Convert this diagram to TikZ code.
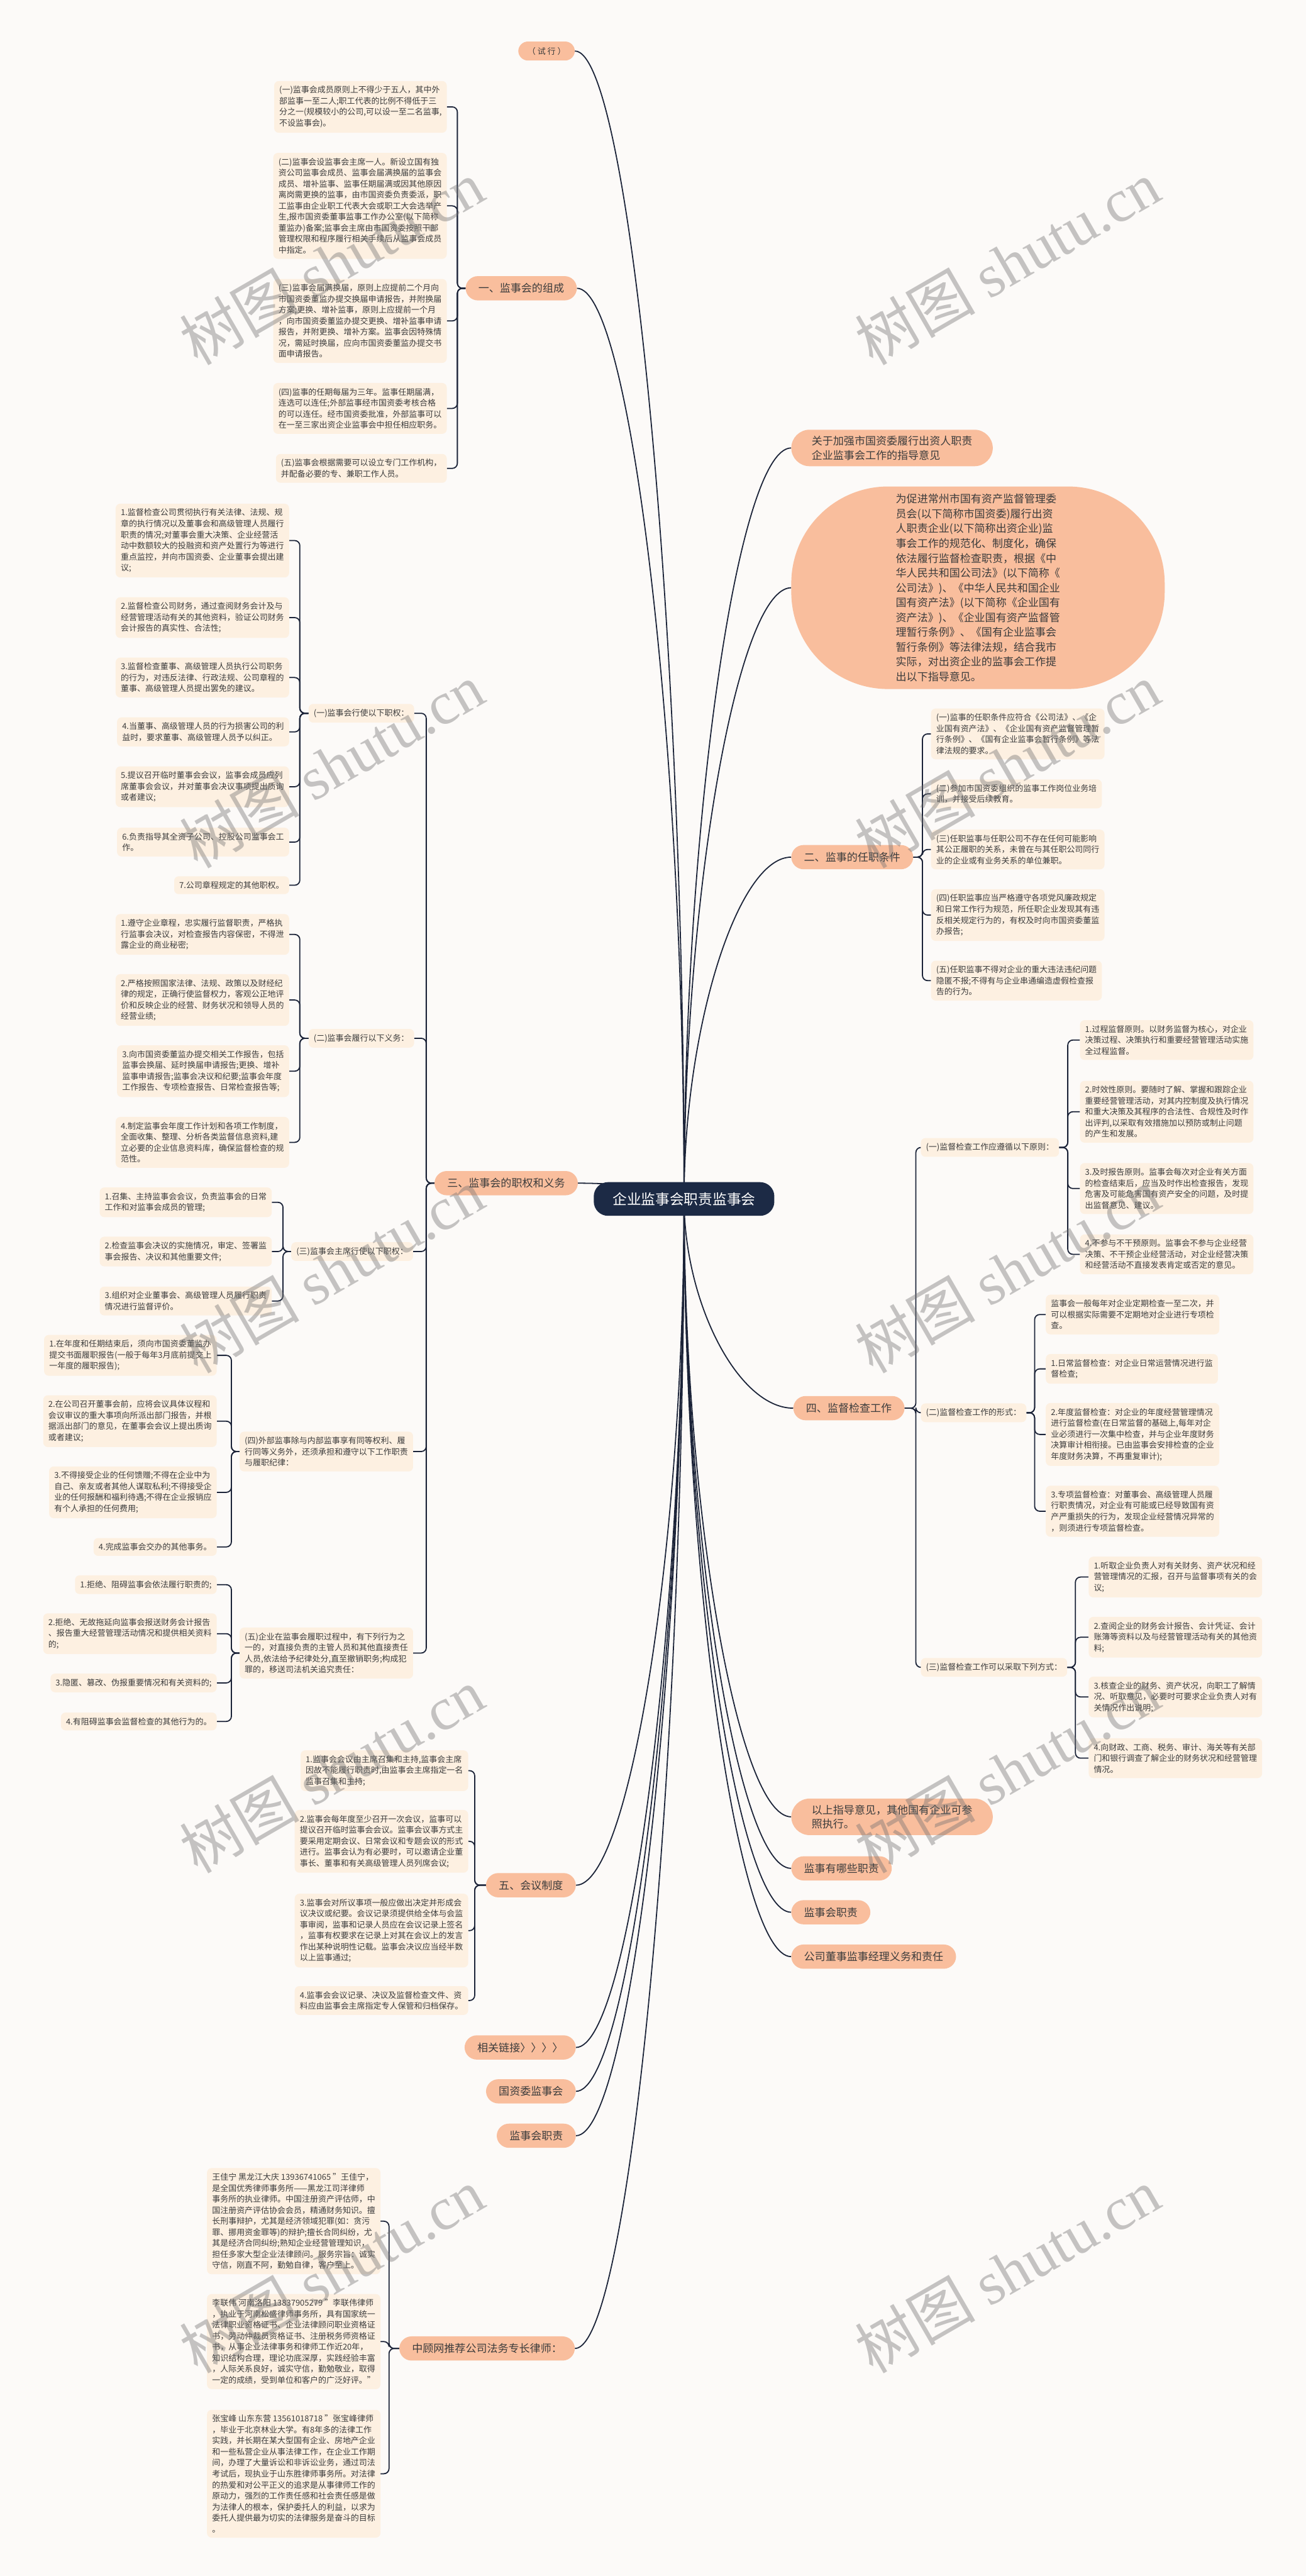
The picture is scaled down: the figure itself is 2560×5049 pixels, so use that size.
\documentclass[tikz,border=0pt]{standalone}
\usepackage{fontspec}
\setmainfont{Noto Sans CJK SC}
\newfontfamily\wmserif{Liberation Serif}
\usetikzlibrary{calc}
\definecolor{bgc}{HTML}{FCFAF8}
\definecolor{leaffill}{HTML}{FDF0E1}
\definecolor{brfill}{HTML}{F9BE9D}
\definecolor{rootfill}{HTML}{1C2A45}
\definecolor{linec}{HTML}{1B2338}
\definecolor{txt}{HTML}{3C3C3C}
\definecolor{wmc}{HTML}{707070}
\pgfdeclarelayer{back}\pgfdeclarelayer{bg}\pgfdeclarelayer{front}
\pgfsetlayers{back,bg,main,front}
\newcommand\lf{\fontsize{16}{21.6}\selectfont}
\newcommand\brf{\fontsize{21}{28}\selectfont}
\newcommand\bigf{\fontsize{21}{29}\selectfont}
\newcommand\rootf{\fontsize{28}{32}\selectfont}
\newcommand\wmf{\fontsize{118}{130}\selectfont}
\tikzset{
 leaf/.style={fill=leaffill, rounded corners=9pt, inner xsep=10pt, inner ysep=10pt, align=left, font=\lf, text=txt},
 br/.style={fill=brfill, inner xsep=25pt, inner ysep=14pt, align=left, font=\brf, text=txt, rounded corners=24pt},
 conn/.style={draw=linec, line width=2.2pt},
 elbow/.style={conn, rounded corners=10pt},
 mm/.style={to path={let \p1=(\tikztostart), \p2=(\tikztotarget), \p3=($(\p1)!0.5!(\p2)$) in .. controls (\x1,\y3) and (\x3,\y2) .. (\p2)}},
 wm/.style={text=wmc, opacity=0.4, rotate=30, font=\wmf}
}
\begin{document}
\begin{tikzpicture}[x=1pt,y=-1pt]
\useasboundingbox (0,0) rectangle (2560,5049);
\begin{pgfonlayer}{back}
\fill[bgc] (0,0) rectangle (2560,5049);
\end{pgfonlayer}

% root
\node[fill=rootfill, text=white, font=\rootf, minimum width=354pt, minimum height=66pt, rounded corners=28pt] (root) at (1341,2350) {企业监事会职责监事会};

% main branches
\node[br, font=\lf, inner xsep=18pt, inner ysep=11pt, rounded corners=19pt, anchor=east] (b0) at (1127,100) {（ 试 行 ）};
\node[br, anchor=east] (b1) at (1131,565) {一、监事会的组成};
\node[br, anchor=west, inner xsep=40pt, inner ysep=12pt, rounded corners=36pt] (b2) at (1551,878) {关于加强市国资委履行出资人职责\\企业监事会工作的指导意见};
\node[fill=brfill, text=txt, font=\bigf, align=left, minimum width=732pt, minimum height=397pt, rounded corners=190pt, anchor=west] (b3) at (1551,1152) {为促进常州市国有资产监督管理委\\员会(以下简称市国资委)履行出资\\人职责企业(以下简称出资企业)监\\事会工作的规范化、制度化，确保\\依法履行监督检查职责，根据《中\\华人民共和国公司法》(以下简称《\\公司法》)、《中华人民共和国企业\\国有资产法》(以下简称《企业国有\\资产法》)、《企业国有资产监督管\\理暂行条例》、《国有企业监事会\\暂行条例》等法律法规，结合我市\\实际，对出资企业的监事会工作提\\出以下指导意见。};
\node[br, anchor=west] (b4) at (1551,1680) {二、监事的任职条件};
\node[br, anchor=east] (b5) at (1133,2319) {三、监事会的职权和义务};
\node[br, anchor=west] (b6) at (1555,2760) {四、监督检查工作};
\node[br, anchor=east] (b7) at (1129,3695) {五、会议制度};
\node[br, anchor=west, inner xsep=40pt, inner ysep=12pt, rounded corners=36pt] (b8) at (1551,3561) {以上指导意见，其他国有企业可参\\照执行。};
\node[br, anchor=west] (b9) at (1551,3662) {监事有哪些职责};
\node[br, anchor=west] (b10) at (1551,3748) {监事会职责};
\node[br, anchor=west] (b11) at (1551,3835) {公司董事监事经理义务和责任};
\node[br, anchor=east] (b12) at (1129,4013) {相关链接〉〉〉〉};
\node[br, anchor=east] (b13) at (1129,4099) {国资委监事会};
\node[br, anchor=east] (b14) at (1129,4186) {监事会职责};
\node[br, anchor=east] (b15) at (1127,4603) {中顾网推荐公司法务专长律师：};

% branch 1 leaves
\node[leaf, anchor=east] (l1a) at (876,209.5) {(一)监事会成员原则上不得少于五人，其中外\\部监事一至二人;职工代表的比例不得低于三\\分之一(规模较小的公司,可以设一至二名监事,\\不设监事会)。};
\node[leaf, anchor=east] (l1b) at (876,403.5) {(二)监事会设监事会主席一人。新设立国有独\\资公司监事会成员、监事会届满换届的监事会\\成员、增补监事、监事任期届满或因其他原因\\离岗需更换的监事，由市国资委负责委派，职\\工监事由企业职工代表大会或职工大会选举产\\生,报市国资委董事监事工作办公室(以下简称\\董监办)备案;监事会主席由市国资委按照干部\\管理权限和程序履行相关手续后从监事会成员\\中指定。};
\node[leaf, anchor=east] (l1c) at (876,629) {(三)监事会届满换届，原则上应提前二个月向\\市国资委董监办提交换届申请报告，并附换届\\方案;更换、增补监事，原则上应提前一个月\\，向市国资委董监办提交更换、增补监事申请\\报告，并附更换、增补方案。监事会因特殊情\\况，需延时换届，应向市国资委董监办提交书\\面申请报告。};
\node[leaf, anchor=east] (l1d) at (876,800.5) {(四)监事的任期每届为三年。监事任期届满，\\连选可以连任;外部监事经市国资委考核合格\\的可以连任。经市国资委批准，外部监事可以\\在一至三家出资企业监事会中担任相应职务。};
\node[leaf, anchor=east] (l1e) at (876,918) {(五)监事会根据需要可以设立专门工作机构，\\并配备必要的专、兼职工作人员。};

% branch 2 leaves
\node[leaf, anchor=west] (l2a) at (1825,1438.5) {(一)监事的任职条件应符合《公司法》、《企\\业国有资产法》、《企业国有资产监督管理暂\\行条例》、《国有企业监事会暂行条例》等法\\律法规的要求。};
\node[leaf, anchor=west] (l2b) at (1825,1556) {(二)参加市国资委组织的监事工作岗位业务培\\训，并接受后续教育。};
\node[leaf, anchor=west] (l2c) at (1825,1665) {(三)任职监事与任职公司不存在任何可能影响\\其公正履职的关系，未曾在与其任职公司同行\\业的企业或有业务关系的单位兼职。};
\node[leaf, anchor=west] (l2d) at (1825,1793.5) {(四)任职监事应当严格遵守各项党风廉政规定\\和日常工作行为规范，所任职企业发现其有违\\反相关规定行为的，有权及时向市国资委董监\\办报告;};
\node[leaf, anchor=west] (l2e) at (1825,1922) {(五)任职监事不得对企业的重大违法违纪问题\\隐匿不报;不得有与企业串通编造虚假检查报\\告的行为。};

% branch 3 level 2
\node[leaf, anchor=east] (s1) at (812,1398) {(一)监事会行使以下职权：};
\node[leaf, anchor=east] (s2) at (812,2035) {(二)监事会履行以下义务：};
\node[leaf, anchor=east] (s3) at (810,2453) {(三)监事会主席行使以下职权：};
\node[leaf, anchor=east] (s4) at (810,2845) {(四)外部监事除与内部监事享有同等权利、履\\行同等义务外，还须承担和遵守以下工作职责\\与履职纪律：};
\node[leaf, anchor=east] (s5) at (810,3240) {(五)企业在监事会履职过程中，有下列行为之\\一的，对直接负责的主管人员和其他直接责任\\人员,依法给予纪律处分,直至撤销职务;构成犯\\罪的，移送司法机关追究责任：};

% 3(1) leaves
\node[leaf, anchor=east] (p1a) at (567,1059.5) {1.监督检查公司贯彻执行有关法律、法规、规\\章的执行情况以及董事会和高级管理人员履行\\职责的情况;对董事会重大决策、企业经营活\\动中数额较大的投融资和资产处置行为等进行\\重点监控，并向市国资委、企业董事会提出建\\议;};
\node[leaf, anchor=east] (p1b) at (567,1210.5) {2.监督检查公司财务，通过查阅财务会计及与\\经营管理活动有关的其他资料，验证公司财务\\会计报告的真实性、合法性;};
\node[leaf, anchor=east] (p1c) at (567,1328) {3.监督检查董事、高级管理人员执行公司职务\\的行为，对违反法律、行政法规、公司章程的\\董事、高级管理人员提出罢免的建议。};
\node[leaf, anchor=east] (p1d) at (567,1434.5) {4.当董事、高级管理人员的行为损害公司的利\\益时，要求董事、高级管理人员予以纠正。};
\node[leaf, anchor=east] (p1e) at (567,1542) {5.提议召开临时董事会会议，监事会成员应列\\席董事会会议，并对董事会决议事项提出质询\\或者建议;};
\node[leaf, anchor=east] (p1f) at (567,1650.5) {6.负责指导其全资子公司、控股公司监事会工\\作。};
\node[leaf, anchor=east] (p1g) at (567,1735) {7.公司章程规定的其他职权。};

% 3(2) leaves
\node[leaf, anchor=east] (p2a) at (567,1831.5) {1.遵守企业章程，忠实履行监督职责，严格执\\行监事会决议，对检查报告内容保密，不得泄\\露企业的商业秘密;};
\node[leaf, anchor=east] (p2b) at (567,1960) {2.严格按照国家法律、法规、政策以及财经纪\\律的规定，正确行使监督权力，客观公正地评\\价和反映企业的经营、财务状况和领导人员的\\经营业绩;};
\node[leaf, anchor=east] (p2c) at (567,2099.5) {3.向市国资委董监办提交相关工作报告，包括\\监事会换届、延时换届申请报告;更换、增补\\监事申请报告;监事会决议和纪要;监事会年度\\工作报告、专项检查报告、日常检查报告等;};
\node[leaf, anchor=east] (p2d) at (567,2239) {4.制定监事会年度工作计划和各项工作制度，\\全面收集、整理、分析各类监督信息资料,建\\立必要的企业信息资料库，确保监督检查的规\\范性。};

% 3(3) leaves
\node[leaf, anchor=east] (p3a) at (533,2356.5) {1.召集、主持监事会会议，负责监事会的日常\\工作和对监事会成员的管理;};
\node[leaf, anchor=east] (p3b) at (533,2453) {2.检查监事会决议的实施情况，审定、签署监\\事会报告、决议和其他重要文件;};
\node[leaf, anchor=east] (p3c) at (533,2550) {3.组织对企业董事会、高级管理人员履行职责\\情况进行监督评价。};

% 3(4) leaves
\node[leaf, anchor=east] (p4a) at (425,2656.5) {1.在年度和任期结束后，须向市国资委董监办\\提交书面履职报告(一般于每年3月底前提交上\\一年度的履职报告);};
\node[leaf, anchor=east] (p4b) at (425,2785.5) {2.在公司召开董事会前，应将会议具体议程和\\会议审议的重大事项向所派出部门报告，并根\\据派出部门的意见，在董事会会议上提出质询\\或者建议;};
\node[leaf, anchor=east] (p4c) at (425,2925) {3.不得接受企业的任何馈赠;不得在企业中为\\自己、亲友或者其他人谋取私利;不得接受企\\业的任何报酬和福利待遇;不得在企业报销应\\有个人承担的任何费用;};
\node[leaf, anchor=east] (p4d) at (425,3032) {4.完成监事会交办的其他事务。};

% 3(5) leaves
\node[leaf, anchor=east] (p5a) at (425,3106) {1.拒绝、阻碍监事会依法履行职责的;};
\node[leaf, anchor=east] (p5b) at (425,3202) {2.拒绝、无故拖延向监事会报送财务会计报告\\、报告重大经营管理活动情况和提供相关资料\\的;};
\node[leaf, anchor=east] (p5c) at (425,3298.5) {3.隐匿、篡改、伪报重要情况和有关资料的;};
\node[leaf, anchor=east] (p5d) at (425,3374) {4.有阻碍监事会监督检查的其他行为的。};

% branch 4 level 2
\node[leaf, anchor=west] (t1) at (1805,2249) {(一)监督检查工作应遵循以下原则：};
\node[leaf, anchor=west] (t2) at (1805,2769) {(二)监督检查工作的形式：};
\node[leaf, anchor=west] (t3) at (1805,3268) {(三)监督检查工作可以采取下列方式：};

\node[leaf, anchor=west] (q1a) at (2117,2038.5) {1.过程监督原则。以财务监督为核心，对企业\\决策过程、决策执行和重要经营管理活动实施\\全过程监督。};
\node[leaf, anchor=west] (q1b) at (2117,2179) {2.时效性原则。要随时了解、掌握和跟踪企业\\重要经营管理活动，对其内控制度及执行情况\\和重大决策及其程序的合法性、合规性及时作\\出评判,以采取有效措施加以预防或制止问题\\的产生和发展。};
\node[leaf, anchor=west] (q1c) at (2117,2329.5) {3.及时报告原则。监事会每次对企业有关方面\\的检查结束后，应当及时作出检查报告，发现\\危害及可能危害国有资产安全的问题，及时提\\出监督意见、建议。};
\node[leaf, anchor=west] (q1d) at (2117,2458.5) {4.不参与不干预原则。监事会不参与企业经营\\决策、不干预企业经营活动，对企业经营决策\\和经营活动不直接发表肯定或否定的意见。};

\node[leaf, anchor=west] (q2a) at (2050,2576.5) {监事会一般每年对企业定期检查一至二次，并\\可以根据实际需要不定期地对企业进行专项检\\查。};
\node[leaf, anchor=west] (q2b) at (2050,2683) {1.日常监督检查：对企业日常运营情况进行监\\督检查;};
\node[leaf, anchor=west] (q2c) at (2050,2811.5) {2.年度监督检查：对企业的年度经营管理情况\\进行监督检查(在日常监督的基础上,每年对企\\业必须进行一次集中检查，并与企业年度财务\\决算审计相衔接。已由监事会安排检查的企业\\年度财务决算，不再重复审计);};
\node[leaf, anchor=west] (q2d) at (2050,2962) {3.专项监督检查：对董事会、高级管理人员履\\行职责情况，对企业有可能或已经导致国有资\\产严重损失的行为，发现企业经营情况异常的\\，则须进行专项监督检查。};

\node[leaf, anchor=west] (q3a) at (2134,3091) {1.听取企业负责人对有关财务、资产状况和经\\营管理情况的汇报，召开与监督事项有关的会\\议;};
\node[leaf, anchor=west] (q3b) at (2134,3209) {2.查阅企业的财务会计报告、会计凭证、会计\\账簿等资料以及与经营管理活动有关的其他资\\料;};
\node[leaf, anchor=west] (q3c) at (2134,3326) {3.核查企业的财务、资产状况，向职工了解情\\况、听取意见，必要时可要求企业负责人对有\\关情况作出说明;};
\node[leaf, anchor=west] (q3d) at (2134,3446) {4.向财政、工商、税务、审计、海关等有关部\\门和银行调查了解企业的财务状况和经营管理\\情况。};

% branch 5 leaves
\node[leaf, anchor=east] (l5a) at (918,3470.5) {1.监事会会议由主席召集和主持,监事会主席\\因故不能履行职责时,由监事会主席指定一名\\监事召集和主持;};
\node[leaf, anchor=east] (l5b) at (918,3609) {2.监事会每年度至少召开一次会议，监事可以\\提议召开临时监事会会议。监事会议事方式主\\要采用定期会议、日常会议和专题会议的形式\\进行。监事会认为有必要时，可以邀请企业董\\事长、董事和有关高级管理人员列席会议;};
\node[leaf, anchor=east] (l5c) at (918,3784) {3.监事会对所议事项一般应做出决定并形成会\\议决议或纪要。会议记录须提供给全体与会监\\事审阅，监事和记录人员应在会议记录上签名\\，监事有权要求在记录上对其在会议上的发言\\作出某种说明性记载。监事会决议应当经半数\\以上监事通过;};
\node[leaf, anchor=east] (l5d) at (918,3921) {4.监事会会议记录、决议及监督检查文件、资\\料应由监事会主席指定专人保管和归档保存。};

% lawyers
\node[leaf, anchor=east] (l6a) at (746,4353.5) {王佳宁 黑龙江大庆 13936741065 "王佳宁，\\是全国优秀律师事务所——黑龙江司洋律师\\事务所的执业律师。中国注册资产评估师，中\\国注册资产评估协会会员，精通财务知识。擅\\长刑事辩护，尤其是经济领域犯罪(如：贪污\\罪、挪用资金罪等)的辩护;擅长合同纠纷，尤\\其是经济合同纠纷;熟知企业经营管理知识，\\担任多家大型企业法律顾问。服务宗旨：诚实\\守信，刚直不阿，勤勉自律，客户至上。};
\node[leaf, anchor=east] (l6b) at (746,4589.5) {李联伟 河南洛阳 13837905279 "李联伟律师\\，执业于河南松盛律师事务所，具有国家统一\\法律职业资格证书、企业法律顾问职业资格证\\书，劳动仲裁员资格证书、注册税务师资格证\\书，从事企业法律事务和律师工作近20年，\\知识结构合理，理论功底深厚，实践经验丰富\\，人际关系良好，诚实守信，勤勉敬业，取得\\一定的成绩，受到单位和客户的广泛好评。"};
\node[leaf, anchor=east] (l6c) at (746,4848.5) {张宝峰 山东东营 13561018718 "张宝峰律师\\，毕业于北京林业大学。有8年多的法律工作\\实践，并长期在某大型国有企业、房地产企业\\和一些私营企业从事法律工作，在企业工作期\\间，办理了大量诉讼和非诉讼业务，通过司法\\考试后，现执业于山东胜律师事务所。对法律\\的热爱和对公平正义的追求是从事律师工作的\\原动力，强烈的工作责任感和社会责任感是做\\为法律人的根本，保护委托人的利益，以求为\\委托人提供最为切实的法律服务是奋斗的目标\\。};

% connectors
\begin{pgfonlayer}{bg}
\foreach \b in {b0,b1,b5,b7,b12,b13,b14,b15} \draw[conn] (root.center) to[mm] (\b.east);
\foreach \b in {b2,b3,b4,b6,b8,b9,b10,b11} \draw[conn] (root.center) to[mm] (\b.west);
\foreach \c in {l1a,l1b,l1c,l1d,l1e} \draw[elbow] (b1.west) -- ++(-16,0) |- (\c.east);
\foreach \c in {l2a,l2b,l2c,l2d,l2e} \draw[elbow] (b4.east) -- ++(18,0) |- (\c.west);
\foreach \c in {s1,s2,s3,s4,s5} \draw[elbow] (b5.west) -- ++(-16,0) |- (\c.east);
\foreach \c in {p1a,p1b,p1c,p1d,p1e,p1f,p1g} \draw[elbow] (s1.west) -- ++(-17,0) |- (\c.east);
\foreach \c in {p2a,p2b,p2c,p2d} \draw[elbow] (s2.west) -- ++(-17,0) |- (\c.east);
\foreach \c in {p3a,p3b,p3c} \draw[elbow] (s3.west) -- ++(-16,0) |- (\c.east);
\foreach \c in {p4a,p4b,p4c,p4d} \draw[elbow] (s4.west) -- ++(-16,0) |- (\c.east);
\foreach \c in {p5a,p5b,p5c,p5d} \draw[elbow] (s5.west) -- ++(-16,0) |- (\c.east);
\foreach \c in {t1,t2,t3} \draw[elbow] (b6.east) -- ++(22,0) |- (\c.west);
\foreach \c in {q1a,q1b,q1c,q1d} \draw[elbow] (t1.east) -- ++(17,0) |- (\c.west);
\foreach \c in {q2a,q2b,q2c,q2d} \draw[elbow] (t2.east) -- ++(16,0) |- (\c.west);
\foreach \c in {q3a,q3b,q3c,q3d} \draw[elbow] (t3.east) -- ++(16,0) |- (\c.west);
\foreach \c in {l5a,l5b,l5c,l5d} \draw[elbow] (b7.west) -- ++(-22,0) |- (\c.east);
\foreach \c in {l6a,l6b,l6c} \draw[elbow] (b15.west) -- ++(-20,0) |- (\c.east);
\end{pgfonlayer}

% watermarks
\begin{pgfonlayer}{front}
\foreach \wy [count=\i] in {515,1500,2490,3470,4450} {
  \node[wm] (wl\i) at (650,\wy) {树图 {\wmserif shutu.cn}};
  \node[wm] (wr\i) at (1975,\wy) {树图 {\wmserif shutu.cn}};
}
\end{pgfonlayer}
\end{tikzpicture}
\end{document}
